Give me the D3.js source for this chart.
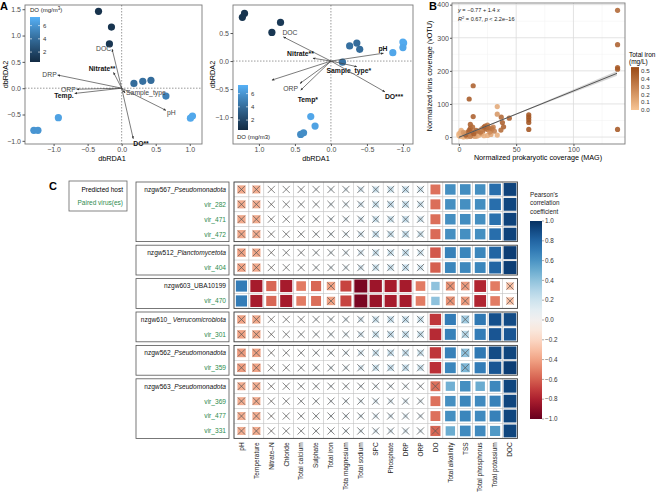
<!DOCTYPE html>
<html>
<head>
<meta charset="utf-8">
<script src="https://cdn.jsdelivr.net/npm/d3@7"></script>
<style>
  body { margin: 0; background: #fff; }
  svg { font-family: "Liberation Sans", Arial, Helvetica, sans-serif; }
</style>
</head>
<body>
<svg id="fig" width="658" height="497"></svg>
<script>
// ---------- data: panel A (dbRDA) ----------
const siteLx = [-0.34, -0.15, -0.18, 0.18, 0.31, 0.43, 0.65, 1.01, 1.04, -0.93, -1.29, -1.23];
const siteLy = [1.46, 1.16, 0.84, 0.09, 0.13, 0.15, -0.15, -0.57, -0.53, -0.56, -0.80, -0.80];
const siteLdo = [0.9, 1.0, 1.2, 4.0, 4.2, 4.0, 5.0, 6.9, 6.9, 6.6, 6.0, 6.0];

const envL = ["DOC", "Nitrate**", "DRP", "ORP", "Temp.", "Sample_type", "pH", "DO**"];
const envLx = [-0.14, -0.12, -0.94, -0.66, -0.69, 0.05, 0.65, 0.17];
const envLy = [0.74, 0.30, 0.25, -0.02, -0.10, -0.09, -0.42, -0.96];

const siteRx = [1.20, 1.23, 0.70, 0.82, -0.26, -0.36, -0.40, -0.16, -0.86, -1.00, -1.01, -1.00, 0.28, 0.22, 0.42, 0.38];
const siteRy = [0.85, 0.78, 0.69, 0.51, 0.27, 0.32, 0.21, -0.02, 0.15, 0.34, 0.32, 0.24, -0.99, -1.16, -1.31, -1.28];
const siteRdo = [1.0, 1.0, 1.3, 1.2, 4.2, 4.0, 4.0, 4.3, 6.8, 7.0, 7.0, 6.8, 6.8, 6.6, 5.5, 5.6];

const envR = ["DOC", "Nitrate**", "DRP", "ORP", "Temp*", "Sample_type*", "pH", "DO***"];
const envRx = [0.66, 0.25, 0.82, 0.43, 0.42, -0.36, -0.73, -0.75];
const envRy = [0.43, 0.05, -0.34, -0.40, -0.52, -0.10, 0.14, -0.55];

const rdaTicksL_x = [-1.0, -0.5, 0.0, 0.5, 1.0];
const rdaTicksL_y = [-1.0, -0.5, 0.0, 0.5, 1.0, 1.5];
const rdaTicksR_x = [1.0, 0.5, 0.0, -0.5, -1.0];
const rdaTicksR_y = [-1.0, -0.5, 0.0, 0.5];
const doTicks = [2, 4, 6];

// ---------- data: panel B (coverage) ----------
const magCov = [138.5, 138.5, 138.5, 138.5, 138.5, 61, 61, 61, 61, 61, 12.5, 9, 12.5, 44, 37, 38, 39, 36.7,
  33.5, 33.5, 33.5, 25, 23, 14, 18, 21, 10, 10, 25, 23, 30, 28, 2, 0, 1, 3, 5, 6, 8, 4, 2, 10, 12, 15, 16, 18,
  20, 22, 0, 3, 7, 11, 14, 19, 25, 28, 27, 5, 8, 10, 13, 15, 17, 20, 22, 26, 29, 31, 12, 9, 1, 6, 4];
const virCov = [383, 279, 210, 205, 23, 67, 60, 52, 44, 23, 155, 115, 62, 57, 60, 44, 31, 21,
  92, 69, 6, 36, 33, 16, 13, 19, 38, 26, 23, 26, 30, 20, 15, 5, 2, 8, 3, 12, 5, 0, 20, 8, 5, 8, 3, 6,
  10, 4, 10, 3, 1, 14, 2, 15, 5, 8, 15, 10, 15, 2, 10, 20, 18, 25, 30, 28, 25, 18, 30, 20, 12, 6, 14];
const totIron = [0.42, 0.45, 0.45, 0.48, 0.48, 0.5, 0.5, 0.5, 0.5, 0.5, 0.45, 0.48, 0.45, 0.45, 0.42, 0.45, 0.45, 0.4,
  0.12, 0.2, 0.1, 0.35, 0.4, 0.45, 0.45, 0.4, 0.45, 0.45, 0.35, 0.38, 0.3, 0.3, 0.08, 0.05, 0.05, 0.1, 0.1, 0.15, 0.2, 0.05, 0.1, 0.3, 0.35, 0.3, 0.15, 0.1,
  0.2, 0.1, 0.05, 0.08, 0.2, 0.4, 0.15, 0.35, 0.1, 0.15, 0.25, 0.3, 0.35, 0.3, 0.45, 0.4, 0.35, 0.3, 0.45, 0.4, 0.35, 0.3, 0.4, 0.45, 0.1, 0.45, 0.2];
const fitIntercept = -0.77, fitSlope = 1.4;
const bandX = [0, 35, 70, 105, 138];
const bandHalf = [3, 2, 3, 5, 7];
const covTicksX = [0, 50, 100];
const covTicksY = [0, 100, 200, 300, 400];
const ironTicks = [0.0, 0.1, 0.2, 0.3, 0.4, 0.5];

// ---------- data: panel C (correlation heatmap) ----------
const variables = ["pH", "Temperature", "Nitrate\u2013N", "Chloride", "Total calcium", "Sulphate", "Total iron",
  "Tota magnesium", "Total sodium", "SPC", "Phosphate", "DRP", "ORP", "DO", "Total alkalinity", "TSS",
  "Total phosphorus", "Total potassium", "DOC"];
const rowNames = ["nzgw567_", "vir_282", "vir_471", "vir_472", "nzgw512_", "vir_404", "nzgw603_UBA10199", "vir_470",
  "nzgw610_ ", "vir_301", "nzgw562_", "vir_359", "nzgw563_", "vir_369", "vir_477", "vir_331"];
const rowTaxon = ["Pseudomonadota", "", "", "", "Planctomycetota", "", "", "", "Verrucomicrobiota", "", "Pseudomonadota", "", "Pseudomonadota", "", "", ""];
const rowIsHost = [1, 0, 0, 0, 1, 0, 1, 0, 1, 0, 1, 0, 1, 0, 0, 0];
const rowGroup = [0, 0, 0, 0, 1, 1, 2, 2, 3, 3, 4, 4, 5, 5, 5, 5];
const corr = [
  [-0.38, -0.36, -0.03, 0.02, 0.04, 0.06, 0.08, 0.10, 0.15, 0.20, 0.20, 0.22, 0.18, -0.55, 0.62, 0.63, 0.62, 0.76, 0.93],
  [-0.37, -0.36, -0.03, 0.02, 0.04, 0.05, 0.08, 0.10, 0.15, 0.20, 0.21, 0.22, 0.18, -0.56, 0.62, 0.62, 0.63, 0.76, 0.92],
  [-0.38, -0.37, -0.03, 0.02, 0.04, 0.06, 0.08, 0.11, 0.15, 0.20, 0.20, 0.22, 0.18, -0.56, 0.62, 0.63, 0.62, 0.75, 0.93],
  [-0.38, -0.36, -0.03, 0.02, 0.04, 0.06, 0.08, 0.10, 0.15, 0.21, 0.20, 0.22, 0.18, -0.57, 0.62, 0.62, 0.62, 0.76, 0.93],
  [-0.40, -0.38, -0.03, 0.02, 0.04, 0.06, 0.08, 0.10, 0.15, 0.20, 0.20, 0.22, 0.18, -0.62, 0.68, 0.66, 0.66, 0.80, 0.95],
  [-0.40, -0.38, -0.03, 0.02, 0.04, 0.06, 0.08, 0.10, 0.15, 0.20, 0.20, 0.22, 0.18, -0.60, 0.66, 0.65, 0.66, 0.80, 0.95],
  [0.70, -0.82, -0.58, -0.82, -0.52, -0.58, -0.40, -0.68, -0.95, -0.85, -0.82, -0.82, -0.52, 0.40, -0.45, -0.42, -0.78, -0.52, -0.30],
  [0.70, -0.82, -0.58, -0.82, -0.52, -0.56, -0.40, -0.68, -0.95, -0.86, -0.82, -0.82, -0.52, 0.40, -0.45, -0.42, -0.78, -0.52, -0.30],
  [-0.40, -0.38, -0.03, 0.02, 0.04, 0.06, 0.08, 0.10, 0.15, 0.20, 0.21, 0.22, 0.20, -0.72, 0.70, 0.35, 0.72, 0.88, 0.90],
  [-0.40, -0.38, -0.03, 0.02, 0.04, 0.06, 0.08, 0.10, 0.15, 0.20, 0.21, 0.22, 0.20, -0.76, 0.68, 0.28, 0.70, 0.86, 0.86],
  [-0.42, -0.40, -0.03, 0.02, 0.04, 0.06, 0.08, 0.10, 0.15, 0.20, 0.21, 0.22, 0.20, -0.72, 0.68, 0.40, 0.72, 0.90, 0.92],
  [-0.42, -0.40, -0.03, 0.02, 0.04, 0.06, 0.08, 0.10, 0.15, 0.20, 0.21, 0.22, 0.20, -0.74, 0.66, 0.45, 0.70, 0.86, 0.95],
  [-0.36, -0.36, -0.03, 0.02, 0.03, 0.05, 0.06, 0.06, 0.07, 0.08, 0.08, 0.08, 0.06, -0.55, 0.48, 0.62, 0.50, 0.65, 0.92],
  [-0.36, -0.36, -0.03, 0.02, 0.04, 0.05, 0.06, 0.08, 0.10, 0.12, 0.12, 0.12, 0.10, -0.55, 0.62, 0.66, 0.64, 0.68, 0.92],
  [-0.36, -0.36, -0.03, 0.02, 0.04, 0.05, 0.06, 0.08, 0.10, 0.12, 0.12, 0.12, 0.10, -0.55, 0.62, 0.66, 0.64, 0.68, 0.92],
  [-0.36, -0.36, -0.03, 0.02, 0.03, 0.05, 0.06, 0.08, 0.10, 0.12, 0.12, 0.12, 0.10, -0.58, 0.50, 0.64, 0.64, 0.58, 0.92]
];
// "x" = not significant
const nonSig = [
  "xxxxxxxxxxxxx......", "xxxxxxxxxxxxx......", "xxxxxxxxxxxxx......", "xxxxxxxxxxxxx......",
  "xxxxxxxxxxxxx......", "xxxxxxxxxxxxx......",
  "......x.......xx..x", "......x.......xx..x",
  "xxxxxxxxxxxxx..x...", "xxxxxxxxxxxxx..x...",
  "xxxxxxxxxxxxx..x...", "xxxxxxxxxxxxx..x...",
  "xxxxxxxxxxxxxx.....", "xxxxxxxxxxxxx......", "xxxxxxxxxxxxx......", "xxxxxxxxxxxxxx....."
];
const corrTicks = [-1.0, -0.8, -0.6, -0.4, -0.2, 0.0, 0.2, 0.4, 0.6, 0.8, 1.0];

// ---------- drawing ----------
const svg = d3.select("#fig");
const defs = svg.append("defs");
const fmt1 = d => d3.format(".1f")(d).replace("-", "\u2212");
const tickCol = "#4d4d4d";

defs.append("marker")
  .attr("id", "arr").attr("viewBox", "0 0 10 10").attr("refX", 9).attr("refY", 5)
  .attr("markerWidth", 4).attr("markerHeight", 4).attr("orient", "auto")
  .append("path").attr("d", "M0,1 L10,5 L0,9 Z").attr("fill", "#333");

const doColor = d3.scaleLinear().domain([0.5, 7.3]).range(["#132B43", "#56B1F7"]).interpolate(d3.interpolateLab);

function rdaPanel(o) {
  const g = svg.append("g");
  const [x0, x1] = o.x.range(), [y1, y0] = o.y.range();
  g.append("rect").attr("x", x0).attr("y", y0).attr("width", x1 - x0).attr("height", y1 - y0)
    .attr("fill", "#fff").attr("stroke", "#7a7a7a").attr("stroke-width", 0.9);
  // zero lines
  g.append("line").attr("x1", o.x(0)).attr("x2", o.x(0)).attr("y1", y0).attr("y2", y1)
    .attr("stroke", "#555").attr("stroke-width", 0.6).attr("stroke-dasharray", "1.5,1.5");
  g.append("line").attr("x1", x0).attr("x2", x1).attr("y1", o.y(0)).attr("y2", o.y(0))
    .attr("stroke", "#555").attr("stroke-width", 0.6).attr("stroke-dasharray", "1.5,1.5");

  // axes
  g.append("g").attr("transform", `translate(0,${y1})`)
    .call(d3.axisBottom(o.x).tickValues(o.tx).tickFormat(fmt1).tickSize(2).tickPadding(1))
    .call(a => a.select(".domain").remove());
  g.append("g").attr("transform", `translate(${x0},0)`)
    .call(d3.axisLeft(o.y).tickValues(o.ty).tickFormat(fmt1).tickSize(2.5).tickPadding(1.5))
    .call(a => a.select(".domain").remove());
  g.selectAll(".tick text").attr("font-size", 7).attr("fill", tickCol).attr("font-family", null);
  g.selectAll(".tick line").attr("stroke", "#555");

  g.append("text").attr("x", o.titleX).attr("y", y1 + 17).attr("text-anchor", "middle")
    .attr("font-size", 7.3).text("dbRDA1");
  g.append("text").attr("transform", `translate(${o.ylabX},${(y0 + y1) / 2}) rotate(-90)`)
    .attr("text-anchor", "middle").attr("font-size", 7.3).text("dbRDA2");

  // sites
  g.selectAll("circle.site").data(o.sx).join("circle").attr("class", "site")
    .attr("cx", d => o.x(d)).attr("cy", (d, i) => o.y(o.sy[i])).attr("r", 3.6)
    .attr("fill", (d, i) => doColor(o.sdo[i]));

  // env arrows
  const ox = o.x(0), oy = o.y(0);
  o.names.forEach((n, i) => {
    const ex = o.x(o.ex[i]), ey = o.y(o.ey[i]);
    g.append("line").attr("x1", ox).attr("y1", oy).attr("x2", ex).attr("y2", ey)
      .attr("stroke", "#444").attr("stroke-width", 0.7).attr("marker-end", "url(#arr)");
    const p = o.place[i];
    const bold = /[*.]/.test(n) || (o.boldExtra || []).includes(n);
    g.append("text").attr("x", ex + p[0]).attr("y", ey + p[1]).attr("text-anchor", p[2])
      .attr("font-size", 6.8).attr("font-weight", bold ? "bold" : null)
      .attr("fill", bold ? "#111" : "#444").text(n);
  });

  // DO legend
  const L = o.leg;
  const lg = g.append("g");
  lg.append("rect").attr("x", L.bx).attr("y", L.by).attr("width", L.bw).attr("height", L.bh).attr("fill", "#fff");
  const gid = "dograd" + o.id;
  const grad = defs.append("linearGradient").attr("id", gid).attr("x1", 0).attr("x2", 0).attr("y1", 1).attr("y2", 0);
  d3.range(0, 1.01, 0.1).forEach(t => grad.append("stop").attr("offset", t)
    .attr("stop-color", doColor(0.5 + t * 6.8)));
  const ly = d3.scaleLinear().domain([0.5, 7.3]).range([L.y + L.h, L.y]);
  lg.append("rect").attr("x", L.x).attr("y", L.y).attr("width", 10).attr("height", L.h).attr("fill", `url(#${gid})`);
  doTicks.forEach(t => {
    lg.append("line").attr("x1", L.x).attr("x2", L.x + 2).attr("y1", ly(t)).attr("y2", ly(t)).attr("stroke", "#fff").attr("stroke-width", 0.6);
    lg.append("line").attr("x1", L.x + 8).attr("x2", L.x + 10).attr("y1", ly(t)).attr("y2", ly(t)).attr("stroke", "#fff").attr("stroke-width", 0.6);
    lg.append("text").attr("x", L.x + 13).attr("y", ly(t) + 2.3).attr("font-size", 6).attr("fill", "#333").text(t);
  });
  const tt = lg.append("text").attr("x", L.tx).attr("y", L.ty).attr("font-size", 6).attr("fill", "#222");
  if (o.legSup) {
    tt.append("tspan").text("DO (mg/m");
    tt.append("tspan").attr("dy", -2).attr("font-size", 4.5).text("3");
    tt.append("tspan").attr("dy", 2).text(")");
  } else {
    tt.text("DO (mg/m3)");
  }
}

rdaPanel({
  id: "L",
  x: d3.scaleLinear().domain([-1.42, 1.18]).range([25, 202]),
  y: d3.scaleLinear().domain([-1.06, 1.58]).range([144, 5]),
  tx: rdaTicksL_x, ty: rdaTicksL_y, ylabX: 8, titleX: 112,
  sx: siteLx, sy: siteLy, sdo: siteLdo,
  names: envL, ex: envLx, ey: envLy,
  place: [[-1, 2, "end"], [2, -1, "end"], [-1, 2, "end"], [-1, 2.5, "end"], [-1, 5, "end"],
          [1, 2, "start"], [1, 5, "start"], [0, 7, "start"]],
  leg: { bx: 27, by: 6, bw: 37, bh: 58, x: 30, y: 17, h: 45, tx: 30, ty: 12 },
  legSup: true
});

rdaPanel({
  id: "R",
  x: d3.scaleLinear().domain([1.36, -1.14]).range([233, 413]),
  y: d3.scaleLinear().domain([-1.48, 1.0]).range([144, 5]),
  tx: rdaTicksR_x, ty: rdaTicksR_y, ylabX: 215, titleX: 316,
  sx: siteRx, sy: siteRy, sdo: siteRdo,
  names: envR, ex: envRx, ey: envRy, boldExtra: ["pH"],
  place: [[-1, -2, "start"], [1, -2, "end"], [0, 9, "end"], [-2, 8, "end"], [-3, 12, "start"],
          [-8, 6, "middle"], [4, -2, "end"], [0, 7, "start"]],
  leg: { bx: 236, by: 83, bw: 40, bh: 58, x: 238, y: 85, h: 45, tx: 237, ty: 139 },
  legSup: false
});

svg.append("text").attr("x", 0).attr("y", 10).attr("font-size", 11).attr("font-weight", "bold").text("A");

// ---------- panel B ----------
(function () {
  const g = svg.append("g");
  const x = d3.scaleLinear().domain([-6, 145]).range([452, 625]);
  const y = d3.scaleLinear().domain([-21, 405]).range([144, 3]);
  const ironColor = d3.scaleLinear().domain([0, 0.55]).range(["#F7C595", "#9A4A16"]).interpolate(d3.interpolateLab);
  g.append("rect").attr("x", 452).attr("y", 3).attr("width", 173).attr("height", 141).attr("fill", "#fff");
  // minor grid
  [25, 75, 125].forEach(v => g.append("line").attr("x1", x(v)).attr("x2", x(v)).attr("y1", 3).attr("y2", 144).attr("stroke", "#f0f0f0").attr("stroke-width", 0.5));
  [50, 150, 250, 350].forEach(v => g.append("line").attr("y1", y(v)).attr("y2", y(v)).attr("x1", 452).attr("x2", 625).attr("stroke", "#f0f0f0").attr("stroke-width", 0.5));
  covTicksX.forEach(v => g.append("line").attr("x1", x(v)).attr("x2", x(v)).attr("y1", 3).attr("y2", 144).attr("stroke", "#dcdcdc").attr("stroke-width", 0.8));
  covTicksY.forEach(v => g.append("line").attr("y1", y(v)).attr("y2", y(v)).attr("x1", 452).attr("x2", 625).attr("stroke", "#dcdcdc").attr("stroke-width", 0.8));
  g.append("rect").attr("x", 452).attr("y", 3).attr("width", 173).attr("height", 141)
    .attr("fill", "none").attr("stroke", "#7a7a7a").attr("stroke-width", 0.9);

  g.append("g").attr("transform", "translate(0,144)")
    .call(d3.axisBottom(x).tickValues(covTicksX).tickSize(2).tickPadding(1))
    .call(a => a.select(".domain").remove());
  g.append("g").attr("transform", "translate(452,0)")
    .call(d3.axisLeft(y).tickValues(covTicksY).tickSize(2).tickPadding(1))
    .call(a => a.select(".domain").remove());
  g.selectAll(".tick text").attr("font-size", 7).attr("fill", tickCol).attr("font-family", null);
  g.selectAll(".tick line").attr("stroke", "#555");

  g.append("text").attr("x", 538).attr("y", 160).attr("text-anchor", "middle").attr("font-size", 7.2)
    .text("Normalized prokaryotic coverage (MAG)");
  g.append("text").attr("transform", "translate(432,76) rotate(-90)").attr("text-anchor", "middle")
    .attr("font-size", 7.2).text("Normalized virus coverage (vOTU)");

  // points
  g.selectAll("circle").data(magCov).join("circle")
    .attr("cx", d => x(d)).attr("cy", (d, i) => y(virCov[i])).attr("r", 2.6)
    .attr("fill", (d, i) => ironColor(totIron[i])).attr("fill-opacity", 0.88);

  // confidence band and fit
  const band = d3.area().x(d => x(d)).y0((d, i) => y(fitIntercept + fitSlope * d - bandHalf[i]))
    .y1((d, i) => y(fitIntercept + fitSlope * d + bandHalf[i])).curve(d3.curveMonotoneX);
  g.append("path").attr("d", band(bandX)).attr("fill", "#999").attr("fill-opacity", 0.4);
  g.append("line").attr("x1", x(bandX[0])).attr("y1", y(fitIntercept + fitSlope * bandX[0]))
    .attr("x2", x(bandX[bandX.length - 1])).attr("y2", y(fitIntercept + fitSlope * bandX[bandX.length - 1]))
    .attr("stroke", "#555").attr("stroke-width", 1);

  const t1 = g.append("text").attr("x", 458).attr("y", 12).attr("font-size", 5.6).attr("fill", "#222");
  t1.append("tspan").attr("font-style", "italic").text("y");
  t1.append("tspan").text(` = \u2212${Math.abs(fitIntercept)} + ${fitSlope} `);
  t1.append("tspan").attr("font-style", "italic").text("x");
  const t2 = g.append("text").attr("x", 458).attr("y", 20.5).attr("font-size", 5.6).attr("fill", "#222");
  t2.append("tspan").attr("font-style", "italic").text("R");
  t2.append("tspan").attr("dy", -2).attr("font-size", 4).text("2");
  t2.append("tspan").attr("dy", 2).text(" = 0.67, ");
  t2.append("tspan").attr("font-style", "italic").text("p");
  t2.append("tspan").text(" < 2.2e\u221216");

  // legend
  const grad = defs.append("linearGradient").attr("id", "fegrad").attr("x1", 0).attr("x2", 0).attr("y1", 1).attr("y2", 0);
  d3.range(0, 1.01, 0.1).forEach(t => grad.append("stop").attr("offset", t).attr("stop-color", ironColor(t * 0.55)));
  const ly = d3.scaleLinear().domain([0, 0.5]).range([110, 71]);
  g.append("rect").attr("x", 631).attr("y", ly(0.55)).attr("width", 8).attr("height", ly(0) - ly(0.55)).attr("fill", "url(#fegrad)");
  ironTicks.forEach(t => {
    g.append("text").attr("x", 641).attr("y", ly(t) + 2.2).attr("font-size", 6.2).attr("fill", "#333").text(t.toFixed(1));
  });
  g.append("text").attr("x", 629).attr("y", 57).attr("font-size", 6.5).text("Total iron");
  g.append("text").attr("x", 629).attr("y", 64).attr("font-size", 6.5).text("(mg/L)");

  svg.append("text").attr("x", 429).attr("y", 10).attr("font-size", 11).attr("font-weight", "bold").text("B");
})();

// ---------- panel C ----------
(function () {
  const g = svg.append("g");
  const cw = 14.92, rh = 14.9, gapG = 3.6, gx0 = 234, gy0 = 182;
  const corrColor = v => d3.interpolateRdBu((v + 1) / 2);
  const colX = d3.scaleBand().domain(d3.range(variables.length)).range([gx0, gx0 + cw * variables.length]);
  const rowY = i => gy0 + i * rh + rowGroup[i] * gapG;
  const groups = d3.groups(d3.range(rowNames.length), i => rowGroup[i]);

  // legend box
  g.append("rect").attr("x", 69).attr("y", 181).attr("width", 58).attr("height", 30)
    .attr("fill", "#fff").attr("stroke", "#666").attr("stroke-width", 0.8);
  g.append("text").attr("x", 123).attr("y", 192).attr("text-anchor", "end").attr("font-size", 6.5).text("Predicted host");
  g.append("text").attr("x", 123).attr("y", 205).attr("text-anchor", "end").attr("font-size", 6.5).attr("fill", "#2e8b4e").text("Paired virus(es)");
  svg.append("text").attr("x", 49).attr("y", 190).attr("font-size", 11).attr("font-weight", "bold").text("C");

  groups.forEach(([k, rows]) => {
    const top = rowY(rows[0]), h = rows.length * rh;
    g.append("rect").attr("x", 136).attr("y", top).attr("width", 93).attr("height", h)
      .attr("fill", "#fff").attr("stroke", "#555").attr("stroke-width", 0.8);
  });

  rowNames.forEach((name, i) => {
    const y = rowY(i);
    const t = g.append("text").attr("x", 226).attr("y", y + rh / 2 + 2.4).attr("text-anchor", "end")
      .attr("font-size", 6.6).attr("fill", rowIsHost[i] ? "#111" : "#2e8b4e");
    t.append("tspan").text(name);
    if (rowTaxon[i]) t.append("tspan").attr("font-style", "italic").text(rowTaxon[i]);

    corr[i].forEach((v, j) => {
      const x = colX(j);
      g.append("rect").attr("x", x).attr("y", y).attr("width", cw).attr("height", rh)
        .attr("fill", "#fff").attr("stroke", "#c4c4c4").attr("stroke-width", 0.5);
      const s = (cw - 1.6) * Math.sqrt(Math.abs(v));
      g.append("rect").attr("x", x + (cw - s) / 2).attr("y", y + (rh - s) / 2).attr("width", s).attr("height", s)
        .attr("fill", corrColor(v));
      if (nonSig[i][j] === "x") {
        const cx = x + cw / 2, cy = y + rh / 2, d = 3.6;
        g.append("path").attr("d", `M${cx - d},${cy - d}L${cx + d},${cy + d}M${cx - d},${cy + d}L${cx + d},${cy - d}`)
          .attr("stroke", "#555").attr("stroke-width", 0.7).attr("fill", "none");
      }
    });
  });

  groups.forEach(([k, rows]) => {
    const top = rowY(rows[0]), h = rows.length * rh;
    g.append("rect").attr("x", gx0).attr("y", top).attr("width", cw * variables.length).attr("height", h)
      .attr("fill", "none").attr("stroke", "#444").attr("stroke-width", 0.9);
  });

  const lastY = rowY(rowNames.length - 1) + rh;
  variables.forEach((v, j) => {
    g.append("text").attr("transform", `translate(${colX(j) + cw / 2 + 2.3},${lastY + 4}) rotate(-90)`)
      .attr("text-anchor", "end").attr("font-size", 6.5).attr("fill", "#222").text(v);
  });

  // colour bar
  const cb = d3.scaleLinear().domain([-1, 1]).range([419, 221]);
  const grad = defs.append("linearGradient").attr("id", "rdbu").attr("x1", 0).attr("x2", 0).attr("y1", 1).attr("y2", 0);
  d3.range(0, 1.001, 0.05).forEach(t => grad.append("stop").attr("offset", t).attr("stop-color", corrColor(t * 2 - 1)));
  g.append("rect").attr("x", 530).attr("y", 221).attr("width", 12).attr("height", 198).attr("fill", "url(#rdbu)");
  corrTicks.forEach(t => {
    g.append("line").attr("x1", 542).attr("x2", 544).attr("y1", cb(t)).attr("y2", cb(t)).attr("stroke", "#555").attr("stroke-width", 0.5);
    g.append("text").attr("x", 545).attr("y", cb(t) + 2.2).attr("font-size", 6.3).attr("fill", "#333").text(fmt1(t));
  });
  ["Pearson's", "correlation", "coefficient"].forEach((s, k) => {
    g.append("text").attr("x", 530).attr("y", 197 + k * 8.3).attr("font-size", 6.3).attr("fill", "#222").text(s);
  });
})();
</script>
</body>
</html>
